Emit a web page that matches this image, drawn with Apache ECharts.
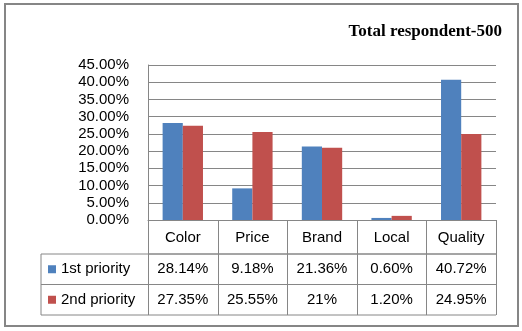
<!DOCTYPE html>
<html>
<head>
<meta charset="utf-8">
<script src="https://cdn.jsdelivr.net/npm/echarts@6/dist/echarts.min.js"></script>
<style>
html,body{margin:0;padding:0;background:#fff;}
#c{width:522px;height:331px;}
</style>
</head>
<body>
<div id="c"></div>
<script>
var titleText = 'Total respondent-500';
var categories = ['Color', 'Price', 'Brand', 'Local', 'Quality'];
var seriesNames = ['1st priority', '2nd priority'];
var firstPriority = [28.14, 9.18, 21.36, 0.60, 40.72];
var secondPriority = [27.35, 25.55, 21, 1.20, 24.95];
var colors = ['#4F81BD', '#C0504D'];

var FONT = 'Liberation Sans';
var FS = 15;
var GRID = {left: 148, top: 65, width: 348, height: 155};
var ROW1 = 34, ROW = 30.5;
var LEGEND_LEFT = 41;
var LINE = '#868686';

function fmt(v) {
  return (Number.isInteger(v) ? String(v) : v.toFixed(2)) + '%';
}

var chart = echarts.init(document.getElementById('c'), null, {renderer: 'canvas'});

var option = {
  backgroundColor: '#fff',
  animation: false,
  title: {
    text: titleText,
    right: 15,
    top: 18,
    textStyle: {fontFamily: 'Liberation Serif', fontWeight: 'bold', fontSize: 17, color: '#000'}
  },
  grid: {left: GRID.left, top: GRID.top, width: GRID.width, height: GRID.height, containLabel: false},
  xAxis: {
    type: 'category',
    data: categories,
    axisLine: {show: true, lineStyle: {color: LINE, width: 1}},
    axisTick: {show: false},
    axisLabel: {show: false},
    splitLine: {show: false}
  },
  yAxis: {
    type: 'value',
    min: 0, max: 45, interval: 5,
    axisLine: {show: true, lineStyle: {color: LINE, width: 1}},
    axisTick: {show: false},
    axisLabel: {
      fontFamily: FONT, fontSize: FS, color: '#000', margin: 19,
      formatter: function (v) { return v.toFixed(2) + '%'; }
    },
    splitLine: {show: true, lineStyle: {color: LINE, width: 1}}
  },
  series: [
    {name: seriesNames[0], type: 'bar', data: firstPriority, itemStyle: {color: colors[0]}, barGap: '0%', barCategoryGap: '42%'},
    {name: seriesNames[1], type: 'bar', data: secondPriority, itemStyle: {color: colors[1]}, barGap: '0%', barCategoryGap: '42%'}
  ]
};
chart.setOption(option);

// Build data table below the plot from the axes.
var g = [];
var x0 = GRID.left, x1 = GRID.left + GRID.width;
var y0 = GRID.top + GRID.height;
var yA = y0 + ROW1, yB = yA + ROW, yC = yB + ROW;
var step = GRID.width / categories.length;

function hline(xa, xb, y) {
  g.push({type: 'line', shape: {x1: xa, y1: y, x2: xb, y2: y}, style: {stroke: LINE, lineWidth: 1}, silent: true});
}
function vline(x, ya, yb) {
  g.push({type: 'line', shape: {x1: x, y1: ya, x2: x, y2: yb}, style: {stroke: LINE, lineWidth: 1}, silent: true});
}
function txt(x, y, s, align) {
  g.push({type: 'text', x: x, y: y, style: {text: s, fontFamily: FONT, fontSize: FS, fill: '#000', align: align || 'center', verticalAlign: 'middle'}, silent: true});
}

// outer border
g.push({type: 'rect', shape: {x: 5, y: 4, width: 513, height: 322}, style: {fill: null, stroke: LINE, lineWidth: 2}, silent: true});

hline(x0, x1, yA);
hline(LEGEND_LEFT, x1, yA);
hline(LEGEND_LEFT, x1, yB);
hline(LEGEND_LEFT, x1, yC);
vline(LEGEND_LEFT, yA, yC);
for (var i = 0; i <= categories.length; i++) {
  vline(Math.round(x0 + i * step) + 0.5, y0, yC);
}
categories.forEach(function (c, i) {
  var cx = chart.convertToPixel({xAxisIndex: 0}, c);
  txt(cx, (y0 + yA) / 2 + 1, c);
  txt(cx, (yA + yB) / 2, fmt(firstPriority[i]));
  txt(cx, (yB + yC) / 2, fmt(secondPriority[i]));
});
[[firstPriority, yA, yB], [secondPriority, yB, yC]].forEach(function (r, k) {
  var cy = (r[1] + r[2]) / 2;
  g.push({type: 'rect', shape: {x: 48, y: cy - 4, width: 8, height: 8}, style: {fill: colors[k]}, silent: true});
  txt(61, cy, seriesNames[k], 'left');
});

chart.setOption({graphic: {elements: g}});
</script>
</body>
</html>
